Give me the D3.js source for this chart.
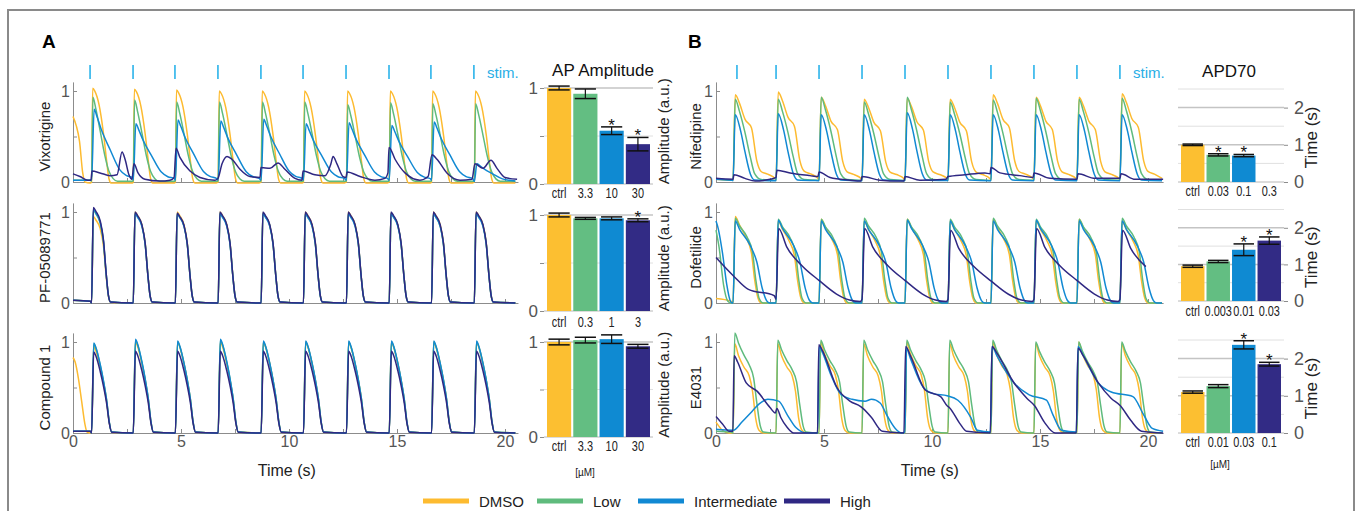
<!DOCTYPE html>
<html>
<head>
<meta charset="utf-8">
<script src="https://cdn.jsdelivr.net/npm/d3@7"></script>
<style>
  body { margin: 0; background: #fff; }
  svg { display: block; font-family: "Liberation Sans", Arial, sans-serif; }
</style>
</head>
<body>
<script>
// ---- data ----
const series = ['DMSO', 'Low', 'Intermediate', 'High'];
const seriesColor = ['#fdbb30', '#5fbb7d', '#1189d3', '#2f2883'];
const barColor = ['#fcbf31', '#63be82', '#0f8ad2', '#322b85'];

// upstroke / stimulus times (s)
const onsetsA = [0.86, 2.79, 4.74, 6.72, 8.71, 10.67, 12.66, 14.64, 16.60, 18.58];
const stimA = [0.79, 2.78, 4.72, 6.71, 8.70, 10.65, 12.64, 14.63, 16.57, 18.56];
const onsetsB = [0.79, 2.78, 4.77, 6.76, 8.75, 10.74, 12.73, 14.72, 16.71, 18.70];
const stimB = [0.97, 2.78, 4.77, 6.76, 8.75, 10.74, 12.73, 14.72, 16.71, 18.70];
const timeTicks = [0, 2.5, 5, 7.5, 10, 12.5, 15, 17.5, 20];

// beat shapes: [s after upstroke, normalised value]; peaks: per-beat amplitude
const vixDmsoShape = [[0, 0], [0.05, 1], [0.15, 0.97], [0.35, 0.82], [0.55, 0.52], [0.7, 0.22], [0.8, 0.04], [0.9, -0.01], [1.9, -0.01]];
const vixDmsoPeaks = [1.03, 1.02, 1.01, 1.0, 1.0, 1.0, 1.0, 1.0, 1.0, 1.0];
const vixDmsoLead = [[0, 0.72], [0.15, 0.62], [0.3, 0.45], [0.45, 0.1], [0.55, 0.0], [0.8, -0.01]];
const vixLowShape = [[0, 0.01], [0.06, 1], [0.2, 0.86], [0.4, 0.6], [0.6, 0.33], [0.8, 0.13], [1.0, 0.04], [1.2, 0.01], [1.9, 0.01]];
const vixLowPeaks = [0.93, 0.9, 0.88, 0.88, 0.88, 0.88, 0.85, 0.87, 0.86, 0.86];
const vixLowLead = [[0, 0.02], [0.8, 0.02]];
const vixIntShape = [[0, 0.03], [0.12, 1], [0.25, 0.9], [0.45, 0.72], [0.85, 0.45], [1.3, 0.17], [1.6, 0.09], [1.9, 0.06]];
const vixIntPeaks = [0.8, 0.64, 0.68, 0.67, 0.69, 0.64, 0.65, 0.62, 0.66, 0.2];
const vixIntLead = [[0, 0.02], [0.8, 0.02]];
const vixHighPts = [[0, 0.09], [0.32, 0.06], [0.69, 0.02], [0.83, 0.02], [0.88, 0.12], [1.25, 0.1], [1.71, 0.07], [2.04, 0.08],
  [2.27, 0.33], [2.41, 0.25], [2.59, 0.08], [2.73, 0.03], [2.82, 0.2], [3.01, 0.1], [3.33, 0.03], [4.03, 0.01], [4.49, 0.02],
  [4.68, 0.05], [4.77, 0.37], [4.95, 0.27], [5.42, 0.12], [5.88, 0.05], [6.57, 0.02], [6.71, 0.04], [6.9, 0.2], [7.13, 0.28],
  [7.36, 0.25], [7.73, 0.14], [8.19, 0.06], [8.66, 0.05], [8.7, 0.16], [9.12, 0.15], [9.49, 0.21], [9.81, 0.14], [10.28, 0.04],
  [10.6, 0.02], [10.65, 0.12], [11.2, 0.08], [11.67, 0.07], [11.94, 0.2], [12.04, 0.28], [12.22, 0.2], [12.5, 0.06], [12.64, 0.05],
  [12.69, 0.11], [13.29, 0.06], [13.98, 0.02], [14.44, 0.04], [14.58, 0.1], [14.63, 0.38], [14.91, 0.25], [15.37, 0.1],
  [16.06, 0.02], [16.44, 0.06], [16.62, 0.3], [16.85, 0.25], [17.31, 0.1], [17.92, 0.02], [18.47, 0.03], [18.61, 0.2],
  [18.98, 0.15], [19.35, 0.24], [19.63, 0.15], [20.0, 0.05], [20.56, 0.03]];

const pfShape = [[0, 0], [0.08, 1], [0.2, 0.96], [0.4, 0.86], [0.55, 0.66], [0.68, 0.3], [0.78, 0.08], [0.88, 0.01], [1.9, 0.0]];
const pfDmsoPeaks = [0.95, 1.0, 1.0, 1.0, 0.99, 1.0, 1.0, 0.99, 1.0, 1.0];
const pfLowPeaks = [1.02, 0.99, 0.98, 0.99, 0.99, 0.98, 0.99, 0.99, 0.98, 0.99];
const pfIntPeaks = [1.03, 0.98, 0.98, 0.98, 0.98, 0.98, 0.98, 0.98, 0.98, 0.98];
const pfHighPeaks = [1.05, 1.0, 0.99, 1.0, 1.0, 1.0, 1.0, 1.0, 1.0, 1.0];
const pfLead = [[0, 0.03], [0.8, 0.02]];

const c1Shape = [[0, 0], [0.1, 1], [0.2, 0.95], [0.4, 0.76], [0.55, 0.58], [0.7, 0.36], [0.82, 0.12], [0.93, 0.01], [1.9, 0]];
const c1DmsoPeaks = [0.95, 1.0, 1.0, 1.0, 1.0, 1.0, 1.0, 1.0, 1.0, 1.0];
const c1LowPeaks = [0.98, 1.02, 1.0, 1.02, 1.0, 1.0, 1.0, 1.0, 1.0, 1.0];
const c1IntPeaks = [0.99, 1.03, 1.01, 1.03, 1.01, 1.01, 1.01, 1.01, 1.01, 1.01];
const c1HighPeaks = [0.89, 0.9, 0.9, 0.9, 0.9, 0.9, 0.9, 0.9, 0.9, 0.9];
const c1DmsoLead = [[0, 0.83], [0.1, 0.78], [0.25, 0.6], [0.4, 0.35], [0.55, 0.1], [0.65, 0.01], [0.8, 0]];
const c1Lead = [[0, 0.02], [0.8, 0.02]];

const nifDmsoShape = [[0, 0.02], [0.1, 1], [0.3, 0.9], [0.55, 0.72], [0.85, 0.62], [1.1, 0.24], [1.3, 0.12], [1.6, 0.09], [1.95, 0.04]];
const nifDmsoPeaks = [0.96, 0.99, 0.93, 0.91, 0.92, 0.91, 0.96, 0.93, 0.93, 0.97];
const nifLowShape = [[0, 0.02], [0.1, 1], [0.3, 0.85], [0.55, 0.6], [0.8, 0.3], [1.0, 0.1], [1.3, 0.03], [1.95, 0.02]];
const nifLowPeaks = [0.91, 0.91, 0.93, 0.88, 0.93, 0.88, 0.9, 0.92, 0.91, 0.92];
const nifIntShape = [[0, 0.02], [0.1, 1], [0.35, 0.76], [0.55, 0.45], [0.8, 0.12], [1.0, 0.03], [1.95, 0.02]];
const nifIntPeaks = [0.74, 0.75, 0.74, 0.74, 0.76, 0.74, 0.74, 0.74, 0.74, 0.74];
const nifLead = [[0, 0.03], [0.7, 0.02]];
const nifHighPts = [[0, 0.04], [0.79, 0.03], [0.83, 0.08], [1.34, 0.04], [1.81, 0.01], [2.5, 0.03], [2.78, 0.05], [2.82, 0.13],
  [3.43, 0.1], [4.35, 0.07], [4.72, 0.06], [4.77, 0.11], [5.28, 0.05], [6.2, 0.02], [6.71, 0.01], [6.76, 0.06], [7.59, 0.02],
  [8.52, 0.01], [8.7, 0.01], [8.75, 0.06], [9.44, 0.02], [10.65, 0.03], [10.74, 0.06], [11.53, 0.08], [12.45, 0.1], [12.69, 0.09],
  [12.73, 0.16], [13.15, 0.1], [14.07, 0.07], [14.68, 0.05], [14.72, 0.1], [15.46, 0.04], [16.71, 0.03], [16.76, 0.09],
  [17.55, 0.04], [18.7, 0.04], [18.75, 0.09], [19.4, 0.03], [20.7, 0.03]];

const dofDmsoShape = [[0, 0], [0.1, 1], [0.3, 0.9], [0.6, 0.76], [0.85, 0.58], [1.0, 0.27], [1.15, 0.06], [1.3, 0.0], [1.95, 0]];
const dofDmsoPeaks = [0.95, 0.9, 0.92, 0.9, 0.92, 0.9, 0.92, 0.9, 0.92, 0.9];
const dofDmsoLead = [[0, 0.05], [0.7, 0.02]];
const dofLowShape = [[0, 0], [0.1, 1], [0.3, 0.91], [0.65, 0.78], [0.9, 0.6], [1.05, 0.28], [1.2, 0.06], [1.4, 0.0], [1.95, 0]];
const dofLowPeaks = [0.93, 0.92, 0.92, 0.93, 0.92, 0.92, 0.93, 0.92, 0.92, 0.93];
const dofLowLead = [[0, 0.8], [0.15, 0.6], [0.35, 0.2], [0.55, 0.02], [0.7, 0]];
const dofIntShape = [[0, 0], [0.1, 1], [0.3, 0.9], [0.8, 0.7], [1.1, 0.5], [1.35, 0.18], [1.55, 0.03], [1.7, 0], [1.95, 0]];
const dofIntPeaks = [0.9, 0.91, 0.9, 0.9, 0.91, 0.9, 0.9, 0.91, 0.9, 0.9];
const dofIntLead = [[0, 0.9], [0.1, 0.82], [0.3, 0.55], [0.5, 0.2], [0.65, 0.03], [0.75, 0]];
const dofHighOnsets = [2.78, 6.76, 10.74, 14.72, 18.70];
const dofHighShape = [[0, 0.05], [0.12, 1], [0.5, 0.75], [1.2, 0.5], [2.0, 0.3], [2.8, 0.12], [3.4, 0.04], [3.9, 0.02]];
const dofHighPeaks = [0.82, 0.82, 0.8, 0.82, 0.8];
const dofHighLead = [[0, 0.5], [0.8, 0.3], [1.5, 0.15], [2.7, 0.08]];

const e4DmsoShape = [[0, 0], [0.08, 1], [0.25, 0.87], [0.5, 0.74], [0.75, 0.64], [0.9, 0.47], [1.05, 0.16], [1.2, 0.03], [1.4, 0], [1.95, 0]];
const e4DmsoPeaks = [0.98, 0.98, 1.0, 0.98, 1.0, 0.98, 1.0, 0.98, 1.0, 0.98];
const e4DmsoLead = [[0, 0.12], [0.3, 0.03], [0.6, 0]];
const e4LowShape = [[0, 0], [0.08, 1], [0.25, 0.9], [0.5, 0.78], [0.75, 0.68], [0.95, 0.55], [1.1, 0.3], [1.25, 0.08], [1.4, 0.01], [1.95, 0]];
const e4LowPeaks = [1.1, 1.02, 1.02, 1.02, 1.02, 1.02, 1.02, 1.0, 1.0, 1.0];
const e4LowLead = [[0, 0.02], [0.7, 0.01]];
const e4IntPts = [[0, 0.04], [0.8, 0.03], [1.2, 0.12], [1.6, 0.22], [2.0, 0.32], [2.4, 0.37], [2.9, 0.35], [3.3, 0.2], [3.7, 0.06],
  [4.2, 0.0], [4.7, 0.0], [4.78, 0.95], [4.9, 0.9], [5.3, 0.65], [5.8, 0.42], [6.3, 0.37], [6.9, 0.35], [7.2, 0.37], [7.6, 0.33],
  [7.9, 0.2], [8.3, 0.05], [8.6, 0.0], [8.74, 0.01], [8.82, 0.93], [9.0, 0.82], [9.6, 0.5], [10.1, 0.43], [10.7, 0.41], [11.2, 0.36],
  [11.8, 0.17], [12.1, 0.03], [12.7, 0.01], [12.78, 0.95], [13.0, 0.85], [13.8, 0.55], [14.5, 0.42], [15.3, 0.36], [15.6, 0.2],
  [16.0, 0.03], [16.68, 0.01], [16.76, 0.95], [17.0, 0.85], [17.7, 0.55], [18.3, 0.45], [19.3, 0.4], [19.8, 0.2], [20.2, 0.05], [20.7, 0.02]];
const e4HighPts = [[0, 0.18], [0.3, 0.1], [0.6, 0.02], [0.78, 0.02], [0.84, 0.85], [1.0, 0.78], [1.4, 0.55], [1.9, 0.46], [2.5, 0.28],
  [2.75, 0.22], [2.82, 0.27], [3.0, 0.17], [3.3, 0.06], [3.6, 0.0], [4.7, 0.0], [4.76, 0.97], [4.9, 0.92], [5.6, 0.5], [6.2, 0.35],
  [6.7, 0.29], [6.8, 0.27], [7.2, 0.17], [7.7, 0.02], [8.7, 0.0], [8.78, 0.95], [9.0, 0.85], [9.7, 0.47], [10.4, 0.4], [10.7, 0.3],
  [10.8, 0.28], [11.3, 0.1], [11.6, 0.02], [12.7, 0.0], [12.78, 0.95], [13.0, 0.88], [13.8, 0.55], [14.4, 0.38], [14.75, 0.3],
  [15.2, 0.12], [15.7, 0.0], [16.68, 0.0], [16.76, 0.93], [17.0, 0.85], [17.7, 0.55], [18.3, 0.38], [18.72, 0.3], [19.2, 0.14],
  [19.7, 0.02], [20.7, 0.0]];

// bar charts
const vixDoses = ['ctrl', '3.3', '10', '30'];
const vixAmp = [1.0, 0.94, 0.555, 0.415];
const vixErr = [0.02, 0.05, 0.04, 0.07];
const vixSig = [false, false, true, true];
const pfDoses = ['ctrl', '0.3', '1', '3'];
const pfAmp = [1.0, 0.965, 0.965, 0.945];
const pfErr = [0.02, 0.01, 0.015, 0.015];
const pfSig = [false, false, false, true];
const c1Doses = ['ctrl', '3.3', '10', '30'];
const c1Amp = [1.0, 1.02, 1.03, 0.955];
const c1Err = [0.03, 0.03, 0.045, 0.02];
const c1Sig = [false, false, false, false];
const nifDoses = ['ctrl', '0.03', '0.1', '0.3'];
const nifApd = [1.0, 0.73, 0.71, null];
const nifErr = [0.02, 0.03, 0.03, null];
const nifSig = [false, true, true, false];
const dofDoses = ['ctrl', '0.003', '0.01', '0.03'];
const dofApd = [0.95, 1.08, 1.4, 1.65];
const dofErr = [0.03, 0.03, 0.16, 0.1];
const dofSig = [false, false, true, true];
const e4Doses = ['ctrl', '0.01', '0.03', '0.1'];
const e4Apd = [1.1, 1.26, 2.37, 1.85];
const e4Err = [0.03, 0.04, 0.11, 0.05];
const e4Sig = [false, false, true, true];

// ---- helpers ----
function train(onsets, shape, peaks, lead, end) {
  const pts = lead.slice();
  onsets.forEach((t0, i) => {
    const next = i + 1 < onsets.length ? onsets[i + 1] : end;
    shape.forEach(([dt, v]) => {
      if (t0 + dt < next - 0.005) pts.push([t0 + dt, v * peaks[i]]);
    });
  });
  return pts;
}

const W = 1358, H = 511;
const svg = d3.select('body').append('svg').attr('width', W).attr('height', H);
svg.append('rect').attr('width', W).attr('height', H).attr('fill', '#fff');
svg.append('rect').attr('x', 8).attr('y', 10).attr('width', 1346).attr('height', 520)
  .attr('fill', 'none').attr('stroke', '#8a8a8a').attr('stroke-width', 2);

const endA = 20.6, endB = 20.7;
const xA = d3.scaleLinear().domain([0, endA]).range([73, 73 + endA * 21.6]);
const xB = d3.scaleLinear().domain([0, endB]).range([716, 716 + endB * 21.6]);
const rows = [{ y0: 182, y1: 91 }, { y0: 303, y1: 212 }, { y0: 433, y1: 342 }];

const panelA = [
  { label: 'Vixotrigine', traces: [
    train(onsetsA, vixDmsoShape, vixDmsoPeaks, vixDmsoLead, endA),
    train(onsetsA, vixLowShape, vixLowPeaks, vixLowLead, endA),
    train(onsetsA, vixIntShape, vixIntPeaks, vixIntLead, endA),
    vixHighPts] },
  { label: 'PF-05089771', traces: [
    train(onsetsA, pfShape, pfDmsoPeaks, pfLead, endA),
    train(onsetsA, pfShape, pfLowPeaks, pfLead, endA),
    train(onsetsA, pfShape, pfIntPeaks, pfLead, endA),
    train(onsetsA, pfShape, pfHighPeaks, pfLead, endA)] },
  { label: 'Compound 1', traces: [
    train(onsetsA, c1Shape, c1DmsoPeaks, c1DmsoLead, endA),
    train(onsetsA, c1Shape, c1LowPeaks, c1Lead, endA),
    train(onsetsA, c1Shape, c1IntPeaks, c1Lead, endA),
    train(onsetsA, c1Shape, c1HighPeaks, c1Lead, endA)] }
];
const panelB = [
  { label: 'Nifedipine', traces: [
    train(onsetsB, nifDmsoShape, nifDmsoPeaks, nifLead, endB),
    train(onsetsB, nifLowShape, nifLowPeaks, nifLead, endB),
    train(onsetsB, nifIntShape, nifIntPeaks, nifLead, endB),
    nifHighPts] },
  { label: 'Dofetilide', traces: [
    train(onsetsB, dofDmsoShape, dofDmsoPeaks, dofDmsoLead, endB),
    train(onsetsB, dofLowShape, dofLowPeaks, dofLowLead, endB),
    train(onsetsB, dofIntShape, dofIntPeaks, dofIntLead, endB),
    train(dofHighOnsets, dofHighShape, dofHighPeaks, dofHighLead, endB)] },
  { label: 'E4031', traces: [
    train(onsetsB, e4DmsoShape, e4DmsoPeaks, e4DmsoLead, endB),
    train(onsetsB, e4LowShape, e4LowPeaks, e4LowLead, endB),
    e4IntPts,
    e4HighPts] }
];

function styleAxis(g, size) {
  g.select('.domain').attr('stroke', '#8c8c8c');
  g.selectAll('.tick line').attr('stroke', '#8c8c8c');
  g.selectAll('.tick text').attr('fill', '#555').attr('font-size', size).attr('font-family', null);
}

function drawTraces(x, stims, panel, labelX, stimLabelX) {
  // stimulus marks
  svg.append('g').selectAll('line').data(stims).enter().append('line')
    .attr('x1', d => x(d)).attr('x2', d => x(d)).attr('y1', 65).attr('y2', 79)
    .attr('stroke', '#2bb3ea').attr('stroke-width', 1.6);
  svg.append('text').attr('x', stimLabelX).attr('y', 78).text('stim.')
    .attr('fill', '#2aaee6').attr('font-size', 15);

  panel.forEach((p, r) => {
    const { y0, y1 } = rows[r];
    const y = d3.scaleLinear().domain([0, 1.1]).range([y0, y0 - 1.1 * (y0 - y1)]);
    const bottom = r === rows.length - 1;

    const gy = svg.append('g').attr('transform', `translate(${x(0)},0)`)
      .call(d3.axisLeft(y).tickValues([0, 0.5, 1]).tickSize(-4).tickSizeOuter(0)
        .tickFormat(d => d === 0.5 ? '' : d));
    styleAxis(gy, 16);
    const gx = svg.append('g').attr('transform', `translate(0,${y0})`)
      .call(d3.axisBottom(x).tickValues(timeTicks).tickSize(-4).tickSizeOuter(0)
        .tickFormat(d => bottom && d % 5 === 0 ? d : ''));
    styleAxis(gx, 16);

    svg.append('text')
      .attr('transform', `translate(${labelX},${(y0 + y1) / 2}) rotate(-90)`)
      .attr('text-anchor', 'middle').attr('font-size', 15).attr('fill', '#222')
      .text(p.label);

    const line = d3.line().x(d => x(d[0])).y(d => y(d[1])).curve(d3.curveMonotoneX);
    p.traces.forEach((pts, i) => {
      svg.append('path').datum(pts).attr('d', line)
        .attr('fill', 'none').attr('stroke', seriesColor[i]).attr('stroke-width', 1.5)
        .attr('stroke-linejoin', 'round');
    });
  });

  svg.append('text').attr('x', x(9.9)).attr('y', 476).attr('text-anchor', 'middle')
    .attr('font-size', 16).attr('fill', '#222').text('Time (s)');
}

drawTraces(xA, stimA, panelA, 50, 487);
drawTraces(xB, stimB, panelB, 701, 1133);

// ---- bar charts ----
function drawBars(cfg) {
  const x = d3.scaleBand().domain(cfg.doses).range([cfg.x0, cfg.x1]).paddingInner(0.08);
  const y = d3.scaleLinear().domain([0, cfg.top]).range([cfg.base, cfg.base - cfg.top * cfg.unit]);
  const g = svg.append('g');

  g.selectAll('.grid').data(cfg.grid).enter().append('line')
    .attr('x1', cfg.x0 - 3).attr('x2', cfg.x1 + 3)
    .attr('y1', d => y(d)).attr('y2', d => y(d))
    .attr('stroke', d => Number.isInteger(d) ? '#c4c4c4' : '#e0e0e0')
    .attr('stroke-width', d => Number.isInteger(d) ? 1.5 : 1);
  g.append('line').attr('x1', cfg.x0 - 3).attr('x2', cfg.x1 + 3)
    .attr('y1', y(0)).attr('y2', y(0)).attr('stroke', '#b8b8b8');

  const idx = d3.range(cfg.doses.length).filter(i => cfg.vals[i] != null);
  g.selectAll('.bar').data(idx).enter().append('rect')
    .attr('x', i => x(cfg.doses[i])).attr('width', x.bandwidth())
    .attr('y', i => y(cfg.vals[i])).attr('height', i => y(0) - y(cfg.vals[i]))
    .attr('fill', i => barColor[i]);

  const cap = x.bandwidth() - 3;
  idx.forEach(i => {
    const cx = x(cfg.doses[i]) + x.bandwidth() / 2;
    const hi = y(cfg.vals[i] + cfg.errs[i]), lo = y(cfg.vals[i] - cfg.errs[i]);
    g.append('line').attr('x1', cx).attr('x2', cx).attr('y1', hi).attr('y2', lo)
      .attr('stroke', '#111').attr('stroke-width', 1.2);
    [hi, lo].forEach(yy => g.append('line').attr('x1', cx - cap / 2).attr('x2', cx + cap / 2)
      .attr('y1', yy).attr('y2', yy).attr('stroke', '#111').attr('stroke-width', 1.5));
    if (cfg.sig[i]) {
      g.append('text').attr('x', cx).attr('y', hi + 4).attr('text-anchor', 'middle')
        .attr('font-size', 17).attr('fill', '#111').text('*');
    }
  });

  // condensed dose labels
  g.selectAll('.lab').data(cfg.doses).enter().append('text')
    .attr('transform', d => `translate(${x(d) + x.bandwidth() / 2},${cfg.base + cfg.labelDy}) scale(0.78,1)`)
    .attr('text-anchor', 'middle').attr('font-size', 14).attr('fill', '#222')
    .text(d => d);

  const axis = cfg.right
    ? d3.axisRight(y).tickValues(cfg.ticks).tickSize(4).tickPadding(6)
    : d3.axisLeft(y).tickValues(cfg.ticks).tickSize(4).tickPadding(2);
  const ga = g.append('g').attr('transform', `translate(${cfg.right ? cfg.x1 + 3 : cfg.x0 - 3},0)`)
    .call(axis.tickFormat(d => Number.isInteger(d) ? d : ''));
  ga.select('.domain').remove();
  styleAxis(ga, cfg.right ? 18 : 17);

  g.append('text')
    .attr('transform', `translate(${cfg.ylabX},${cfg.base - cfg.ylabMid * cfg.unit}) rotate(-90)`)
    .attr('text-anchor', 'middle').attr('font-size', cfg.right ? 17 : 15).attr('fill', '#222')
    .text(cfg.ylab);
}

const barsA = [
  [vixDoses, vixAmp, vixErr, vixSig, 184, 96, 14],
  [pfDoses, pfAmp, pfErr, pfSig, 311, 96, 16],
  [c1Doses, c1Amp, c1Err, c1Sig, 437, 95, 14]
];
barsA.forEach(([doses, vals, errs, sig, base, unit, dy]) => drawBars({
  doses, vals, errs, sig, base, unit, labelDy: dy, x0: 547, x1: 650, top: 1.05,
  grid: [0.5, 1], ticks: [0, 0.5, 1], right: false,
  ylab: 'Amplitude (a.u.)', ylabX: 669, ylabMid: 0.55
}));
const barsB = [
  [nifDoses, nifApd, nifErr, nifSig, 182, 37.2, 14],
  [dofDoses, dofApd, dofErr, dofSig, 301, 36.6, 15],
  [e4Doses, e4Apd, e4Err, e4Sig, 433, 37.2, 14]
];
barsB.forEach(([doses, vals, errs, sig, base, unit, dy]) => drawBars({
  doses, vals, errs, sig, base, unit, labelDy: dy, x0: 1181, x1: 1281, top: 2.5,
  grid: [0.5, 1, 1.5, 2, 2.5], ticks: [0, 1, 2], right: true,
  ylab: 'Time (s)', ylabX: 1317, ylabMid: 1.2
}));

// titles and panel letters
svg.append('text').attr('x', 603).attr('y', 76).attr('text-anchor', 'middle')
  .attr('font-size', 17).attr('fill', '#111').text('AP Amplitude');
svg.append('text').attr('x', 1229).attr('y', 77).attr('text-anchor', 'middle')
  .attr('font-size', 17).attr('fill', '#111').text('APD70');
svg.append('text').attr('x', 42).attr('y', 48).attr('font-size', 19).attr('font-weight', 'bold').text('A');
svg.append('text').attr('x', 688).attr('y', 48).attr('font-size', 19).attr('font-weight', 'bold').text('B');
svg.append('text').attr('x', 585).attr('y', 476).attr('text-anchor', 'middle')
  .attr('font-size', 10).attr('fill', '#222').text('[µM]');
svg.append('text').attr('x', 1220).attr('y', 468).attr('text-anchor', 'middle')
  .attr('font-size', 10).attr('fill', '#222').text('[µM]');

// legend
const legX = [423, 537, 638, 784];
const leg = svg.append('g').selectAll('g').data(series).enter().append('g')
  .attr('transform', (d, i) => `translate(${legX[i]},501)`);
leg.append('line').attr('x1', 0).attr('x2', 46).attr('stroke', (d, i) => seriesColor[i]).attr('stroke-width', 5);
leg.append('text').attr('x', 56).attr('y', 5.5).attr('font-size', 15).attr('fill', '#222').text(d => d);
</script>
</body>
</html>
